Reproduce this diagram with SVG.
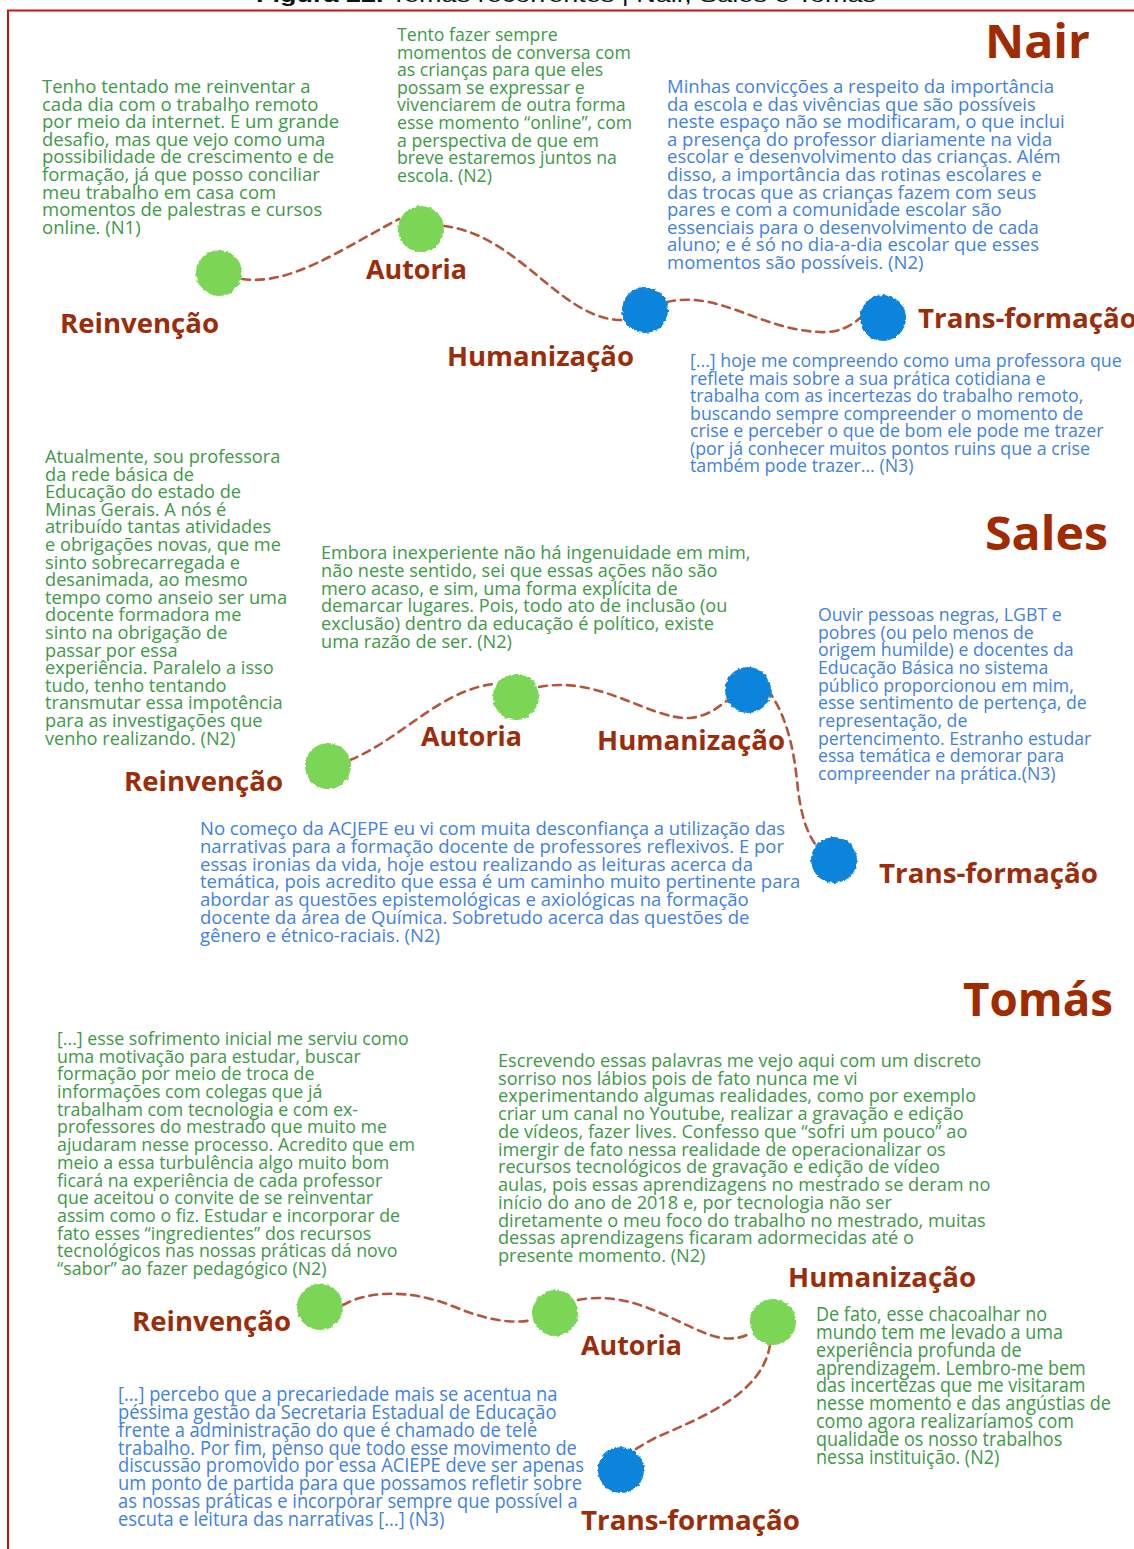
<svg xmlns="http://www.w3.org/2000/svg" width="1134" height="1549" viewBox="0 0 1134 1549">
  <defs>
    <style>
      .cap { font-family: "Liberation Sans", Arial, sans-serif; font-size: 21px; fill: #111; }
      .body { font-family: "Open Sans", "Noto Sans", sans-serif; font-size: 18px; }
      .wide { font-size: 18.5px; }
      .narrow { font-family: "Open Sans", "Noto Sans", sans-serif; font-size: 20px; }
      .g { fill: #3d9a46; }
      .b { fill: #3f82e0; }
      .name { font-family: "Open Sans", "Noto Sans", sans-serif; font-weight: 700; font-size: 47px; fill: #a12b00; }
      .lbl { font-family: "Open Sans", "Noto Sans", sans-serif; font-weight: 700; font-size: 26px; fill: #9b2d0a; }
      .dot-g { fill: #7bd657; filter: url(#rough); }
      .dot-b { fill: #0b84dc; filter: url(#rough); }
      .path { fill: none; stroke: #b4553c; stroke-width: 2.6; stroke-dasharray: 8 6; stroke-linecap: round; }
    </style>
    <filter id="rough" x="-25%" y="-25%" width="150%" height="150%">
      <feTurbulence type="fractalNoise" baseFrequency="0.3" numOctaves="2" seed="4" result="n"/>
      <feDisplacementMap in="SourceGraphic" in2="n" scale="4" xChannelSelector="R" yChannelSelector="G"/>
    </filter>
  </defs>

  <rect width="1134" height="1549" fill="#fff"/>

  <!-- caption, cut at the top edge -->
  <text class="cap" x="256" y="1.5" textLength="620" lengthAdjust="spacingAndGlyphs"><tspan font-weight="700">Figura 22.</tspan> Temas recorrentes | Nair, Sales e Tomás</text>

  <!-- frame (right and bottom sides run past the page) -->
  <rect x="8" y="10.5" width="1140" height="1560" fill="none" stroke="#cc1111" stroke-width="2"/>

  <!-- connectors -->
  <g id="connectors">
    <path class="path" d="M242 279 C290 286 340 250 399 219"/>
    <path class="path" d="M444 226 C520 235 560 320 622 320"/>
    <path class="path" d="M667 302 C720 290 760 330 820 332 C840 333 852 325 860 318"/>

    <path class="path" d="M350 760 C400 740 440 690 494 684"/>
    <path class="path" d="M539 687 C600 675 650 720 690 718 C710 716 720 705 728 700"/>
    <path class="path" d="M768 690 C790 720 795 760 798 790 C802 820 808 835 818 848"/>

    <path class="path" d="M343 1305 C370 1290 410 1290 450 1305 C480 1318 510 1325 532 1320"/>
    <path class="path" d="M578 1300 C630 1290 670 1320 710 1335 C730 1342 745 1337 750 1333"/>
    <path class="path" d="M770 1345 C762 1395 700 1418 655 1438 C640 1446 632 1451 628 1455"/>
  </g>

  <!-- ===== Nair ===== -->
  <g id="nair">
    <text class="name" x="985" y="58" textLength="105" lengthAdjust="spacingAndGlyphs">Nair</text>

    <g id="nair-reinvencao">
      <circle class="dot-g" cx="219" cy="273" r="23"/>
      <text class="lbl" x="60" y="333" textLength="159" lengthAdjust="spacingAndGlyphs">Reinvenção</text>
    </g>
    <g id="nair-autoria">
      <circle class="dot-g" cx="421" cy="229" r="23"/>
      <text class="lbl" x="366" y="279" textLength="101" lengthAdjust="spacingAndGlyphs">Autoria</text>
    </g>
    <g id="nair-humanizacao">
      <circle class="dot-b" cx="645" cy="310" r="23"/>
      <text class="lbl" x="447" y="366" textLength="187" lengthAdjust="spacingAndGlyphs">Humanização</text>
    </g>
    <g id="nair-transformacao">
      <circle class="dot-b" cx="883" cy="318" r="23"/>
      <text class="lbl" x="918" y="328" textLength="219" lengthAdjust="spacingAndGlyphs">Trans-formação</text>
    </g>

    <text class="body wide g" y="93">
      <tspan x="42">Tenho tentado me reinventar a</tspan>
      <tspan x="42" dy="17.6">cada dia com o trabalho remoto</tspan>
      <tspan x="42" dy="17.6">por meio da internet. É um grande</tspan>
      <tspan x="42" dy="17.6">desafio, mas que vejo como uma</tspan>
      <tspan x="42" dy="17.6">possibilidade de crescimento e de</tspan>
      <tspan x="42" dy="17.6">formação, já que posso conciliar</tspan>
      <tspan x="42" dy="17.6">meu trabalho em casa com</tspan>
      <tspan x="42" dy="17.6">momentos de palestras e cursos</tspan>
      <tspan x="42" dy="17.6">online. (N1)</tspan>
    </text>

    <text class="body g" y="41" style="font-size:17.7px">
      <tspan x="397">Tento fazer sempre</tspan>
      <tspan x="397" dy="17.6">momentos de conversa com</tspan>
      <tspan x="397" dy="17.6">as crianças para que eles</tspan>
      <tspan x="397" dy="17.6">possam se expressar e</tspan>
      <tspan x="397" dy="17.6">vivenciarem de outra forma</tspan>
      <tspan x="397" dy="17.6">esse momento “online”, com</tspan>
      <tspan x="397" dy="17.6">a perspectiva de que em</tspan>
      <tspan x="397" dy="17.6">breve estaremos juntos na</tspan>
      <tspan x="397" dy="17.6">escola. (N2)</tspan>
    </text>

    <text class="body wide b" y="93">
      <tspan x="667">Minhas convicções a respeito da importância</tspan>
      <tspan x="667" dy="17.6">da escola e das vivências que são possíveis</tspan>
      <tspan x="667" dy="17.6">neste espaço não se modificaram, o que inclui</tspan>
      <tspan x="667" dy="17.6">a presença do professor diariamente na vida</tspan>
      <tspan x="667" dy="17.6">escolar e desenvolvimento das crianças. Além</tspan>
      <tspan x="667" dy="17.6">disso, a importância das rotinas escolares e</tspan>
      <tspan x="667" dy="17.6">das trocas que as crianças fazem com seus</tspan>
      <tspan x="667" dy="17.6">pares e com a comunidade escolar são</tspan>
      <tspan x="667" dy="17.6">essenciais para o desenvolvimento de cada</tspan>
      <tspan x="667" dy="17.6">aluno; e é só no dia-a-dia escolar que esses</tspan>
      <tspan x="667" dy="17.6">momentos são possíveis.  (N2)</tspan>
    </text>

    <text class="body b" y="367" style="font-size:17.8px">
      <tspan x="690">[...] hoje me compreendo como uma professora que</tspan>
      <tspan x="690" dy="17.5">reflete mais sobre a sua prática cotidiana e</tspan>
      <tspan x="690" dy="17.5">trabalha com as incertezas do trabalho remoto,</tspan>
      <tspan x="690" dy="17.5">buscando sempre compreender o momento de</tspan>
      <tspan x="690" dy="17.5">crise e perceber o que de bom ele pode me trazer</tspan>
      <tspan x="690" dy="17.5">(por já conhecer muitos pontos ruins que a crise</tspan>
      <tspan x="690" dy="17.5">também pode trazer... (N3)</tspan>
    </text>
  </g>

  <!-- ===== Sales ===== -->
  <g id="sales">
    <text class="name" x="985" y="550" textLength="123" lengthAdjust="spacingAndGlyphs">Sales</text>

    <g id="sales-reinvencao">
      <circle class="dot-g" cx="328" cy="766" r="23"/>
      <text class="lbl" x="124" y="791" textLength="159" lengthAdjust="spacingAndGlyphs">Reinvenção</text>
    </g>
    <g id="sales-autoria">
      <circle class="dot-g" cx="516" cy="697" r="23"/>
      <text class="lbl" x="421" y="746" textLength="101" lengthAdjust="spacingAndGlyphs">Autoria</text>
    </g>
    <g id="sales-humanizacao">
      <circle class="dot-b" cx="748" cy="690" r="23"/>
      <text class="lbl" x="597" y="750" textLength="188" lengthAdjust="spacingAndGlyphs">Humanização</text>
    </g>
    <g id="sales-transformacao">
      <circle class="dot-b" cx="834" cy="860" r="23"/>
      <text class="lbl" x="879" y="883" textLength="219" lengthAdjust="spacingAndGlyphs">Trans-formação</text>
    </g>

    <text class="body g" y="463" style="font-size:18.2px">
      <tspan x="45">Atualmente, sou professora</tspan>
      <tspan x="45" dy="17.6">da rede básica de</tspan>
      <tspan x="45" dy="17.6">Educação do estado de</tspan>
      <tspan x="45" dy="17.6">Minas Gerais. A nós é</tspan>
      <tspan x="45" dy="17.6">atribuído tantas atividades</tspan>
      <tspan x="45" dy="17.6">e obrigações novas, que me</tspan>
      <tspan x="45" dy="17.6">sinto sobrecarregada e</tspan>
      <tspan x="45" dy="17.6">desanimada, ao mesmo</tspan>
      <tspan x="45" dy="17.6">tempo como anseio ser uma</tspan>
      <tspan x="45" dy="17.6">docente formadora me</tspan>
      <tspan x="45" dy="17.6">sinto na obrigação de</tspan>
      <tspan x="45" dy="17.6">passar por essa</tspan>
      <tspan x="45" dy="17.6">experiência. Paralelo a isso</tspan>
      <tspan x="45" dy="17.6">tudo, tenho tentando</tspan>
      <tspan x="45" dy="17.6">transmutar essa impotência</tspan>
      <tspan x="45" dy="17.6">para as investigações que</tspan>
      <tspan x="45" dy="17.6">venho realizando.  (N2)</tspan>
    </text>

    <text class="body g" y="559" style="font-size:18.15px">
      <tspan x="321">Embora inexperiente não há ingenuidade em mim,</tspan>
      <tspan x="321" dy="17.8">não neste sentido, sei que essas ações não são</tspan>
      <tspan x="321" dy="17.8">mero acaso, e sim, uma forma explícita de</tspan>
      <tspan x="321" dy="17.8">demarcar lugares. Pois, todo ato de inclusão (ou</tspan>
      <tspan x="321" dy="17.8">exclusão) dentro da educação é político, existe</tspan>
      <tspan x="321" dy="17.8">uma razão de ser. (N2)</tspan>
    </text>

    <text class="body b" y="621" style="font-size:17.7px">
      <tspan x="818">Ouvir pessoas negras, LGBT e</tspan>
      <tspan x="818" dy="17.67">pobres (ou pelo menos de</tspan>
      <tspan x="818" dy="17.67">origem humilde) e docentes da</tspan>
      <tspan x="818" dy="17.67">Educação Básica no sistema</tspan>
      <tspan x="818" dy="17.67">público proporcionou em mim,</tspan>
      <tspan x="818" dy="17.67">esse sentimento de pertença, de</tspan>
      <tspan x="818" dy="17.67">representação, de</tspan>
      <tspan x="818" dy="17.67">pertencimento. Estranho estudar</tspan>
      <tspan x="818" dy="17.67">essa temática e demorar para</tspan>
      <tspan x="818" dy="17.67">compreender na prática.(N3)</tspan>
    </text>

    <text class="body b" y="835" style="font-size:18.5px">
      <tspan x="200">No começo da ACJEPE eu vi com muita desconfiança a utilização das</tspan>
      <tspan x="200" dy="17.83">narrativas para a formação docente de professores reflexivos. E por</tspan>
      <tspan x="200" dy="17.83">essas ironias da vida, hoje estou realizando as leituras acerca da</tspan>
      <tspan x="200" dy="17.83">temática, pois acredito que essa é um caminho muito pertinente para</tspan>
      <tspan x="200" dy="17.83">abordar as questões epistemológicas e axiológicas na formação</tspan>
      <tspan x="200" dy="17.83">docente da área de Química. Sobretudo acerca das questões de</tspan>
      <tspan x="200" dy="17.83">gênero e étnico-raciais.  (N2)</tspan>
    </text>
  </g>

  <!-- ===== Tomás ===== -->
  <g id="tomas">
    <text class="name" x="963" y="1016" textLength="150" lengthAdjust="spacingAndGlyphs">Tomás</text>

    <g id="tomas-reinvencao">
      <circle class="dot-g" cx="320" cy="1307" r="23"/>
      <text class="lbl" x="132" y="1331" textLength="159" lengthAdjust="spacingAndGlyphs">Reinvenção</text>
    </g>
    <g id="tomas-autoria">
      <circle class="dot-g" cx="555" cy="1313" r="23"/>
      <text class="lbl" x="581" y="1355" textLength="101" lengthAdjust="spacingAndGlyphs">Autoria</text>
    </g>
    <g id="tomas-humanizacao">
      <circle class="dot-g" cx="773" cy="1322" r="23"/>
      <text class="lbl" x="788" y="1287" textLength="188" lengthAdjust="spacingAndGlyphs">Humanização</text>
    </g>
    <g id="tomas-transformacao">
      <circle class="dot-b" cx="621" cy="1470" r="23"/>
      <text class="lbl" x="581" y="1530" textLength="219" lengthAdjust="spacingAndGlyphs">Trans-formação</text>
    </g>

    <text class="body g" y="1045" style="font-size:17.8px">
      <tspan x="57">[...] esse sofrimento inicial me serviu como</tspan>
      <tspan x="57" dy="17.69">uma motivação para estudar, buscar</tspan>
      <tspan x="57" dy="17.69">formação por meio de troca de</tspan>
      <tspan x="57" dy="17.69">informações com colegas que já</tspan>
      <tspan x="57" dy="17.69">trabalham com tecnologia e com ex-</tspan>
      <tspan x="57" dy="17.69">professores do mestrado que muito me</tspan>
      <tspan x="57" dy="17.69">ajudaram nesse processo. Acredito que em</tspan>
      <tspan x="57" dy="17.69">meio a essa turbulência algo muito bom</tspan>
      <tspan x="57" dy="17.69">ficará na experiência de cada professor</tspan>
      <tspan x="57" dy="17.69">que aceitou o convite de se reinventar</tspan>
      <tspan x="57" dy="17.69">assim como o fiz. Estudar e incorporar de</tspan>
      <tspan x="57" dy="17.69">fato esses “ingredientes” dos recursos</tspan>
      <tspan x="57" dy="17.69">tecnológicos nas nossas práticas dá novo</tspan>
      <tspan x="57" dy="17.69">“sabor” ao fazer pedagógico (N2)</tspan>
    </text>

    <text class="body g" y="1067" style="font-size:18.15px">
      <tspan x="498">Escrevendo essas palavras me vejo aqui com um discreto</tspan>
      <tspan x="498" dy="17.73">sorriso nos lábios pois de fato nunca me vi</tspan>
      <tspan x="498" dy="17.73">experimentando algumas realidades, como por exemplo</tspan>
      <tspan x="498" dy="17.73">criar um canal no Youtube, realizar a gravação e edição</tspan>
      <tspan x="498" dy="17.73">de vídeos, fazer lives. Confesso que “sofri um pouco” ao</tspan>
      <tspan x="498" dy="17.73">imergir de fato nessa realidade de operacionalizar os</tspan>
      <tspan x="498" dy="17.73">recursos tecnológicos de gravação e edição de vídeo</tspan>
      <tspan x="498" dy="17.73">aulas, pois essas aprendizagens no mestrado se deram no</tspan>
      <tspan x="498" dy="17.73">início do ano de 2018 e, por tecnologia não ser</tspan>
      <tspan x="498" dy="17.73">diretamente o meu foco do trabalho no mestrado, muitas</tspan>
      <tspan x="498" dy="17.73">dessas aprendizagens ficaram adormecidas até o</tspan>
      <tspan x="498" dy="17.73">presente momento. (N2)</tspan>
    </text>

    <g transform="translate(816 0) scale(0.9 1)">
      <text class="narrow g" y="1321">
        <tspan x="0">De fato, esse chacoalhar no</tspan>
        <tspan x="0" dy="17.875">mundo tem me levado a uma</tspan>
        <tspan x="0" dy="17.875">experiência profunda de</tspan>
        <tspan x="0" dy="17.875">aprendizagem. Lembro-me bem</tspan>
        <tspan x="0" dy="17.875">das incertezas que me visitaram</tspan>
        <tspan x="0" dy="17.875">nesse momento e das angústias de</tspan>
        <tspan x="0" dy="17.875">como agora realizaríamos com</tspan>
        <tspan x="0" dy="17.875">qualidade os nosso trabalhos</tspan>
        <tspan x="0" dy="17.875">nessa instituição. (N2)</tspan>
      </text>
    </g>

    <g transform="translate(118 0) scale(0.915 1)">
      <text class="narrow b" y="1401">
        <tspan x="0">[...] percebo que a precariedade mais se acentua na</tspan>
        <tspan x="0" dy="17.86">péssima gestão da Secretaria Estadual de Educação</tspan>
        <tspan x="0" dy="17.86">frente a administração do que é chamado de tele</tspan>
        <tspan x="0" dy="17.86">trabalho. Por fim, penso que todo esse movimento de</tspan>
        <tspan x="0" dy="17.86">discussão promovido por essa ACIEPE deve ser apenas</tspan>
        <tspan x="0" dy="17.86">um ponto de partida para que possamos refletir sobre</tspan>
        <tspan x="0" dy="17.86">as nossas práticas e incorporar sempre que possível a</tspan>
        <tspan x="0" dy="17.86">escuta e leitura das narrativas [...] (N3)</tspan>
      </text>
    </g>
  </g>
</svg>
